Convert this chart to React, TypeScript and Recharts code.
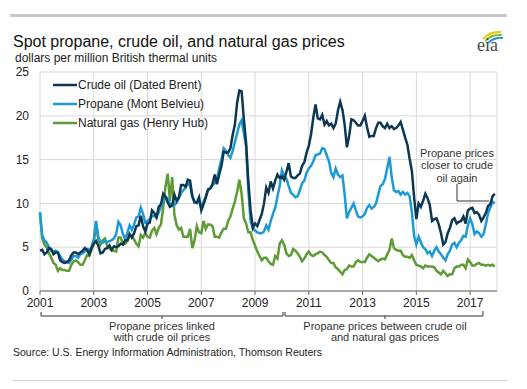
import React from 'react';
import { LineChart, Line, XAxis, YAxis, CartesianGrid } from 'recharts';

const START_YEAR = 2001;
const YEAR_TICKS = [2001, 2003, 2005, 2007, 2009, 2011, 2013, 2015, 2017];
const PRICE_TICKS = [0, 5, 10, 15, 20, 25];

// monthly, Jan 2001 - Dec 2017, $/MMBtu
const crudeOil = [
  4.6, 4.7, 4.2, 4.4, 4.9, 4.8, 4.2, 4.4, 4.4, 3.5, 3.3, 3.2,
  3.3, 3.5, 4.1, 4.4, 4.4, 4.2, 4.4, 4.6, 4.9, 4.7, 4.2, 4.9,
  5.4, 5.7, 5.2, 4.3, 4.4, 4.8, 4.9, 5.2, 4.7, 5.1, 5.0, 5.1,
  5.4, 5.3, 5.8, 5.8, 6.5, 6.1, 6.6, 7.4, 7.5, 8.6, 7.4, 6.8,
  7.7, 7.8, 9.2, 8.9, 8.4, 9.6, 9.9, 11.1, 10.8, 10.1, 9.6, 9.8,
  11.0, 10.3, 10.7, 12.1, 12.1, 11.9, 12.7, 12.6, 10.8, 10.1, 10.1, 10.7,
  9.2, 9.9, 10.7, 11.6, 11.7, 12.2, 13.3, 12.2, 13.3, 14.3, 15.9, 15.8,
  15.8, 16.3, 17.8, 19.0, 21.5, 22.9, 22.8, 19.6, 16.9, 12.5, 9.2, 7.2,
  7.7, 7.4, 8.1, 8.8, 10.0, 11.8, 11.2, 12.5, 11.7, 12.6, 13.3, 12.9,
  13.1, 12.7, 13.6, 14.6, 13.1, 12.9, 12.9, 13.2, 13.4, 14.3, 14.7, 15.8,
  16.6, 17.9, 19.8, 21.3, 19.7, 19.6, 20.1, 19.0, 19.4, 18.9, 19.1, 18.6,
  19.1, 20.6, 21.6, 20.7, 19.0, 16.4, 17.7, 19.6, 19.5, 19.2, 18.9, 18.9,
  19.4, 20.0, 18.7, 17.6, 17.7, 17.7, 18.6, 19.2, 19.2, 18.8, 18.6, 19.1,
  18.6, 18.8, 18.5, 18.6, 18.9, 19.3, 18.4, 17.5, 16.7, 15.1, 13.7, 10.7,
  8.2, 10.0, 9.6, 10.3, 11.1, 10.6, 9.8, 8.0, 8.2, 8.3, 7.6, 6.6,
  5.3, 5.6, 6.6, 7.2, 8.1, 8.3, 7.7, 7.9, 8.0, 8.5, 7.7, 9.2,
  9.4, 9.5, 8.9, 9.0, 8.7, 8.0, 8.4, 8.9, 9.7, 9.9, 10.8, 11.1,
];

const propane = [
  9.0, 6.3, 5.8, 5.5, 5.0, 4.6, 4.5, 4.6, 4.4, 4.0, 3.6, 3.4,
  3.3, 3.2, 3.6, 4.0, 4.0, 3.8, 4.2, 4.3, 4.5, 4.8, 4.7, 5.0,
  5.9, 8.0, 6.2, 5.6, 5.5, 5.7, 5.6, 5.7, 5.8, 6.0, 6.5, 7.9,
  7.5, 6.5, 6.0, 6.6, 7.5, 7.0, 7.6, 8.4, 8.5, 9.5, 8.8, 7.8,
  8.0, 8.2, 8.5, 8.6, 8.4, 9.0, 9.6, 10.3, 10.7, 10.6, 10.0, 9.7,
  9.8, 10.1, 10.6, 11.2, 11.5, 11.8, 12.3, 12.0, 10.8, 10.2, 10.0, 10.3,
  9.6, 10.2, 10.8, 11.5, 11.7, 12.1, 12.3, 12.8, 14.0, 15.0, 16.3, 16.0,
  15.5, 15.2, 16.0, 17.0, 18.0, 19.0, 19.5, 18.0, 16.5, 11.5, 8.0, 7.2,
  6.9, 6.7, 6.6, 6.6, 6.8, 7.5, 7.0, 8.0, 8.8, 9.5, 10.8, 12.0,
  13.8, 13.2, 12.8, 12.0, 11.2, 11.0, 10.7, 10.8, 11.5, 12.3, 12.6, 13.5,
  14.0, 14.3, 14.8, 15.5, 15.6, 15.7, 16.3, 16.2, 15.5, 14.8, 13.5, 13.0,
  14.0, 13.3, 13.0, 13.2, 11.0, 8.3, 9.0, 9.5, 10.0, 9.2, 8.5, 8.4,
  8.5, 8.8, 9.5, 9.8, 9.4, 9.6, 10.0, 11.0, 12.0, 12.2, 12.8, 14.0,
  15.3, 13.0, 11.5, 11.3, 11.4, 11.0, 11.3, 11.0, 11.2, 10.8, 9.0, 6.3,
  5.3, 6.2, 5.6, 5.0, 4.8, 4.3, 4.5, 4.0, 4.6, 5.0, 4.5, 4.2,
  3.8, 3.5, 4.2, 4.6, 5.3, 5.5, 5.0, 5.5, 5.8, 6.3, 6.2, 7.5,
  8.3, 7.6, 6.5, 6.8, 6.6, 6.2, 6.5, 7.6, 8.9, 9.5, 10.2, 10.0,
];

const naturalGas = [
  8.9, 6.0, 5.3, 5.0, 4.3, 3.8, 3.2, 3.0, 2.3, 2.6, 2.4, 2.4,
  2.3, 2.3, 3.0, 3.4, 3.5, 3.3, 3.0, 3.0, 3.5, 4.1, 4.0, 4.7,
  5.4, 7.7, 5.9, 5.3, 5.8, 6.0, 5.1, 4.9, 4.6, 4.6, 4.5, 6.1,
  6.1, 5.4, 5.4, 5.7, 6.3, 6.3, 5.9, 5.4, 5.1, 6.4, 6.1, 6.6,
  6.2, 6.1, 6.9, 7.2, 6.5, 7.2, 7.6, 9.5, 11.9, 13.4, 10.3, 13.0,
  8.7, 7.5, 7.0, 7.2, 6.2, 6.2, 6.2, 7.1, 4.9, 5.8, 7.4, 6.7,
  6.6, 8.0, 7.1, 7.6, 7.6, 7.4, 6.2, 6.2, 6.1, 6.7, 7.1, 7.1,
  8.0, 8.5, 9.4, 10.2, 11.3, 12.7, 11.1, 8.3, 7.7, 6.7, 6.7, 5.8,
  5.2, 4.5, 4.0, 3.5, 3.8, 3.8, 3.4, 3.1, 3.0, 4.0, 3.7, 5.4,
  5.8, 5.3, 4.3, 4.0, 4.1, 4.8, 4.6, 4.3, 3.9, 3.4, 3.7, 4.2,
  4.5, 4.1, 4.0, 4.2, 4.3, 4.5, 4.4, 4.1, 3.9, 3.5, 3.2, 3.2,
  2.7, 2.5, 2.2, 1.9, 2.4, 2.5, 2.9, 2.8, 2.8, 3.3, 3.5, 3.3,
  3.3, 3.3, 3.8, 4.2, 4.0, 3.8, 3.6, 3.4, 3.6, 3.7, 3.6, 4.2,
  4.7, 6.0, 4.9, 4.7, 4.6, 4.6, 4.1, 3.9, 3.9, 3.8, 4.1, 3.5,
  3.0, 2.9, 2.8, 2.6, 2.9, 2.8, 2.8, 2.8, 2.7, 2.3, 2.1, 1.9,
  2.3, 2.0, 1.7, 1.9, 1.9, 2.6, 2.8, 2.8, 3.0, 3.0, 2.6, 3.6,
  3.3, 2.9, 2.9, 3.1, 3.2, 3.0, 3.0, 2.9, 3.0, 2.9, 3.0, 2.8,
];

const LEGEND = [
  { name: 'Crude oil (Dated Brent)', color: '#0c3752' },
  { name: 'Propane (Mont Belvieu)', color: '#1b9ad6' },
  { name: 'Natural gas (Henry Hub)', color: '#5e9a35' },
];

const data = crudeOil.map((v, i) => ({
  t: START_YEAR + i / 12,
  crude: v,
  propane: propane[i],
  gas: naturalGas[i],
}));

const FONT = '"Liberation Sans", Arial, sans-serif';

export default function App() {
  return (
    <div style={{ position: 'absolute', left: 0, top: 0, width: 527, height: 389, background: '#fff', fontFamily: FONT }}>
      <LineChart width={527} height={389} data={data} margin={{ top: 72, right: 30, bottom: 68, left: 0 }}>
        <CartesianGrid stroke="#d9d9d9" />
        <XAxis
          dataKey="t"
          type="number"
          domain={[2001, 2018]}
          ticks={YEAR_TICKS}
          tickSize={4}
          tickMargin={3}
          stroke="#666"
          tick={{ fill: '#222', fontSize: 12, fontFamily: FONT }}
        />
        <YAxis
          width={40}
          domain={[0, 25]}
          ticks={PRICE_TICKS}
          axisLine={false}
          tickLine={false}
          tickMargin={5}
          tick={{ fill: '#222', fontSize: 12, fontFamily: FONT }}
        />
        <Line dataKey="gas" stroke={LEGEND[2].color} strokeWidth={2.5} dot={false} isAnimationActive={false} />
        <Line dataKey="propane" stroke={LEGEND[1].color} strokeWidth={2.5} dot={false} isAnimationActive={false} />
        <Line dataKey="crude" stroke={LEGEND[0].color} strokeWidth={2.5} dot={false} isAnimationActive={false} />
      </LineChart>
      <svg width={527} height={389} style={{ position: 'absolute', left: 0, top: 0, pointerEvents: 'none', fontFamily: FONT }}>
        <line x1={10} y1={15.5} x2={507} y2={15.5} stroke="#c8c8c8" strokeWidth={3} />
        <line x1={13} y1={380.5} x2={507} y2={380.5} stroke="#d0d0d0" strokeWidth={1} />
        <text x={13} y={47} fontSize={16} fill="#111">Spot propane, crude oil, and natural gas prices</text>
        <text x={15} y={62} fontSize={12} fill="#222">dollars per million British thermal units</text>

        {/* eia logo */}
        <path d="M483,39 Q490,31 501,32" stroke="#f2c200" strokeWidth={2} fill="none" />
        <path d="M485,41 Q492,34 502,35" stroke="#7cc242" strokeWidth={2} fill="none" />
        <path d="M488,43 Q495,37 503,38" stroke="#2a8fd4" strokeWidth={2} fill="none" />
        <text x={477} y={51} fontSize={18} fontFamily='"Liberation Serif", serif' fill="#4a4a4a">eia</text>

        {LEGEND.map((s, i) => (
          <g key={s.name}>
            <line x1={53} x2={77} y1={85 + i * 19} y2={85 + i * 19} stroke={s.color} strokeWidth={2.5} />
            <text x={78} y={89 + i * 19} fontSize={12} fill="#222">{s.name}</text>
          </g>
        ))}

        <g fontSize={11} fill="#333" textAnchor="middle">
          <text x={457} y={156.5}>Propane prices</text>
          <text x={457} y={169}>closer to crude</text>
          <text x={457} y={181.5}>oil again</text>
        </g>
        <polyline points="457,184 457,201 489,201" stroke="#333" strokeWidth={1} fill="none" />

        <polyline points="41,312 41,316 283,316 283,312" stroke="#333" fill="none" />
        <line x1={162} y1={316} x2={162} y2={319} stroke="#333" />
        <polyline points="285,312 285,316 483,316 483,311" stroke="#333" fill="none" />
        <line x1={385} y1={316} x2={385} y2={319} stroke="#333" />
        <g fontSize={11} fill="#333" textAnchor="middle">
          <text x={162} y={330}>Propane prices linked</text>
          <text x={162} y={341}>with crude oil prices</text>
          <text x={385} y={330}>Propane prices between crude oil</text>
          <text x={385} y={341}>and natural gas prices</text>
        </g>
        <text x={13} y={356} fontSize={10.5} fill="#222">Source: U.S. Energy Information Administration, Thomson Reuters</text>
      </svg>
    </div>
  );
}
